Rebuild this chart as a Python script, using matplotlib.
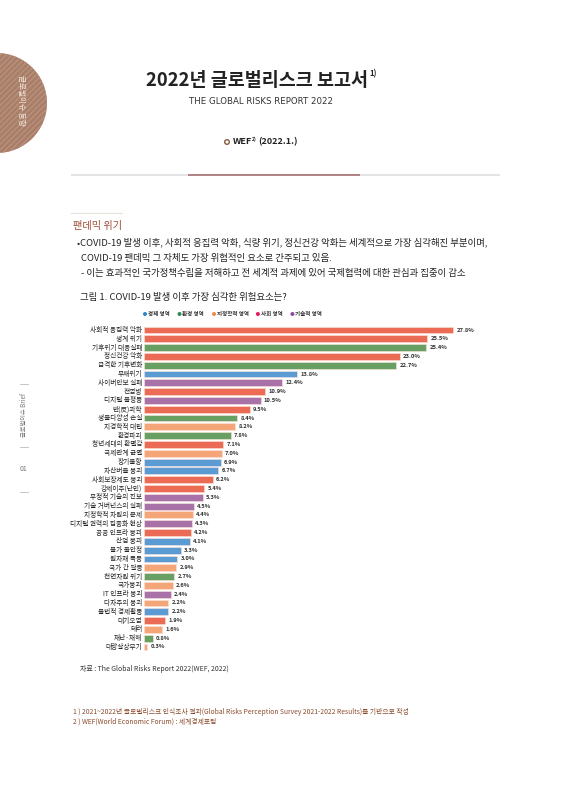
import matplotlib
matplotlib.use("Agg")
from matplotlib import pyplot as plt
from matplotlib.patches import Circle

plt.rcParams['font.family'] = ['Noto Sans CJK KR', 'DejaVu Sans']

# chart data
risks = [
    '사회적 응집력 악화', '생계 위기', '기후위기 대응실패', '정신건강 악화', '급격한 기후변화',
    '부채위기', '사이버안보 실패', '전염병', '디지털 불평등', '반(反)과학',
    '생물다양성 손실', '지경학적 대립', '환경파괴', '청년세대의 환멸감', '국제관계 균열',
    '장기불황', '자산버블 붕괴', '사회보장제도 붕괴', '강제이주(난민)', '부정적 기술의 진보',
    '기술 거버넌스의 실패', '지정학적 자원의 문제', '디지털 권력의 집중화 현상', '공공 인프라 붕괴', '산업 붕괴',
    '물가 불안정', '원자재 폭등', '국가 간 갈등', '천연자원 위기', '국가붕괴',
    'IT 인프라 붕괴', '다자주의 붕괴', '불법적 경제활동', '대기오염', '테러',
    '재난·재해', '대량살상무기',
]
shares = [
    27.8, 25.5, 25.4, 23.0, 22.7,
    13.8, 12.4, 10.9, 10.5, 9.5,
    8.4, 8.2, 7.8, 7.1, 7.0,
    6.9, 6.7, 6.2, 5.4, 5.3,
    4.5, 4.4, 4.3, 4.2, 4.1,
    3.3, 3.0, 2.9, 2.7, 2.6,
    2.4, 2.2, 2.2, 1.9, 1.6,
    0.8, 0.3,
]
domains = [
    '사회', '사회', '환경', '사회', '환경',
    '경제', '기술', '사회', '기술', '사회',
    '환경', '지정학', '환경', '사회', '지정학',
    '경제', '경제', '사회', '사회', '기술',
    '기술', '지정학', '기술', '사회', '경제',
    '경제', '경제', '지정학', '환경', '지정학',
    '기술', '지정학', '경제', '사회', '지정학',
    '환경', '지정학',
]
legend_names = ['경제 영역', '환경 영역', '지정학적 영역', '사회 영역', '기술적 영역']
legend_keys = ['경제', '환경', '지정학', '사회', '기술']

bar_colors = {'경제': '#5B9BD3', '환경': '#67A062', '지정학': '#F5A678',
              '사회': '#EC6B55', '기술': '#A872A8'}
dot_colors = {'경제': '#2F86C6', '환경': '#2E8B5A', '지정학': '#F08A45',
              '사회': '#E5195E', '기술': '#8D4BA6'}

W, H = 566, 800
fig = plt.figure(figsize=(W / 100, H / 100), dpi=100)
fig.patch.set_facecolor('white')


def fx(x):
    return x / W


def fy(y):
    return 1 - y / H


def txt(x, y, s, **kw):
    fig.text(fx(x), fy(y), s, **kw)


# page layer in pixel coordinates
bg = fig.add_axes([0, 0, 1, 1])
bg.set_xlim(0, W)
bg.set_ylim(H, 0)
bg.axis('off')

# left tab circle
bg.add_patch(Circle((-3, 103), 50, facecolor='#A97E69', edgecolor='none'))
bg.add_patch(Circle((-3, 103), 50, facecolor='none', edgecolor='#B8917D',
                    hatch='//////', linewidth=0))
bg.text(21, 100, '글로벌이슈 동향', rotation=-90, ha='center', va='center',
        fontsize=5.5, color='#F3E6DA')

# side markers
for yy in (384, 447, 492):
    bg.plot([20, 28], [yy, yy], color='#BBBBBB', lw=0.6)
bg.text(24, 415, '글로벌이슈 Brief', rotation=90, ha='center', va='center',
        fontsize=4.5, color='#777777')
bg.text(24, 469, '01', ha='center', va='center', fontsize=5, color='#777777')

# header
txt(257, 80, '2022년 글로벌리스크 보고서', ha='center', va='center',
    fontsize=13.3, fontweight='bold', color='#222222')
txt(369, 74, '1)', ha='left', va='center', fontsize=5.5, fontweight='bold', color='#222222')
txt(261, 102, 'THE GLOBAL RISKS REPORT 2022', ha='center', va='center',
    fontsize=6.2, color='#333333', family=['Liberation Sans Narrow', 'DejaVu Sans'])
bg.add_patch(Circle((227, 142), 2.3, facecolor='white', edgecolor='#8A5A44', lw=1))
txt(233, 142, 'WEF', ha='left', va='center', fontsize=6.5, fontweight='bold', color='#222222')
txt(252, 139.5, '2)', ha='left', va='center', fontsize=3.5, fontweight='bold', color='#222222')
txt(258, 142, '(2022.1.)', ha='left', va='center', fontsize=6.5, fontweight='bold', color='#222222')

bg.plot([71, 188], [174.5, 174.5], color='#E2E2E2', lw=1.3, solid_capstyle='butt')
bg.plot([188, 360], [174.5, 174.5], color='#A8767B', lw=1.3, solid_capstyle='butt')
bg.plot([360, 500], [174.5, 174.5], color='#E2E2E2', lw=1.3, solid_capstyle='butt')

# section text
bg.plot([71, 122], [213, 213], color='#E6E0DA', lw=0.8)
txt(73, 226, '팬데믹 위기', ha='left', va='center', fontsize=7.3, color='#9C4A35')
body = [
    (77, 242, '•COVID-19 발생 이후, 사회적 응집력 악화, 식량 위기, 정신건강 악화는 세계적으로 가장 심각해진 부분이며,'),
    (81, 258, 'COVID-19 팬데믹 그 자체도 가장 위협적인 요소로 간주되고 있음.'),
    (81, 273, '- 이는 효과적인 국가정책수립을 저해하고 전 세계적 과제에 있어 국제협력에 대한 관심과 집중이 감소'),
]
for x, y, s in body:
    txt(x, y, s, ha='left', va='center', fontsize=6.8, color='#222222')

txt(80, 297, '그림 1. COVID-19 발생 이후 가장 심각한 위험요소는?', ha='left', va='center',
    fontsize=6.8, color='#222222')

# legend
lx = 145
for key, name in zip(legend_keys, legend_names):
    bg.add_patch(Circle((lx, 314), 2.0, facecolor=dot_colors[key], edgecolor='none'))
    bg.text(lx + 3, 314, name, ha='left', va='center', fontsize=4.0, color='#333333',
            fontweight='bold')
    lx += 3 + len(name) * 4.7 + 8

# bar chart
ax_left, ax_right = 144, 530
ax_top, ax_bottom = 325.6, 651.4
ax = fig.add_axes([fx(ax_left), fy(ax_bottom), (ax_right - ax_left) / W,
                   (ax_bottom - ax_top) / H])
ax.set_xlim(0, (ax_right - ax_left) / 11.115)
ax.set_ylim(len(risks) - 0.5, -0.5)
ypos = list(range(len(risks)))
ax.barh(ypos, shares, height=0.78,
        color=[bar_colors[d] for d in domains],
        edgecolor='#FBE3D9', linewidth=0.4)
for yv, v, name in zip(ypos, shares, risks):
    ax.text(v + 0.3, yv, f'{v:.1f}%', ha='left', va='center', fontsize=4.2,
            color='#333333', fontweight='bold')
    ax.text(-0.15, yv, name, ha='right', va='center', fontsize=4.8, color='#222222')
ax.axis('off')

# source and footnotes
txt(80, 669, '자료 : The Global Risks Report 2022(WEF, 2022)', ha='left', va='center',
    fontsize=5.0, color='#333333')
txt(73, 712, '1 ) 2021~2022년 글로벌리스크 인식조사 결과(Global Risks Perception Survey 2021-2022 Results)를 기반으로 작성',
    ha='left', va='center', fontsize=4.85, color='#8A4A2A')
txt(73, 722, '2 ) WEF(World Economic Forum) : 세계경제포럼', ha='left', va='center',
    fontsize=4.85, color='#8A4A2A')

fig.savefig('out.png', dpi=100)
